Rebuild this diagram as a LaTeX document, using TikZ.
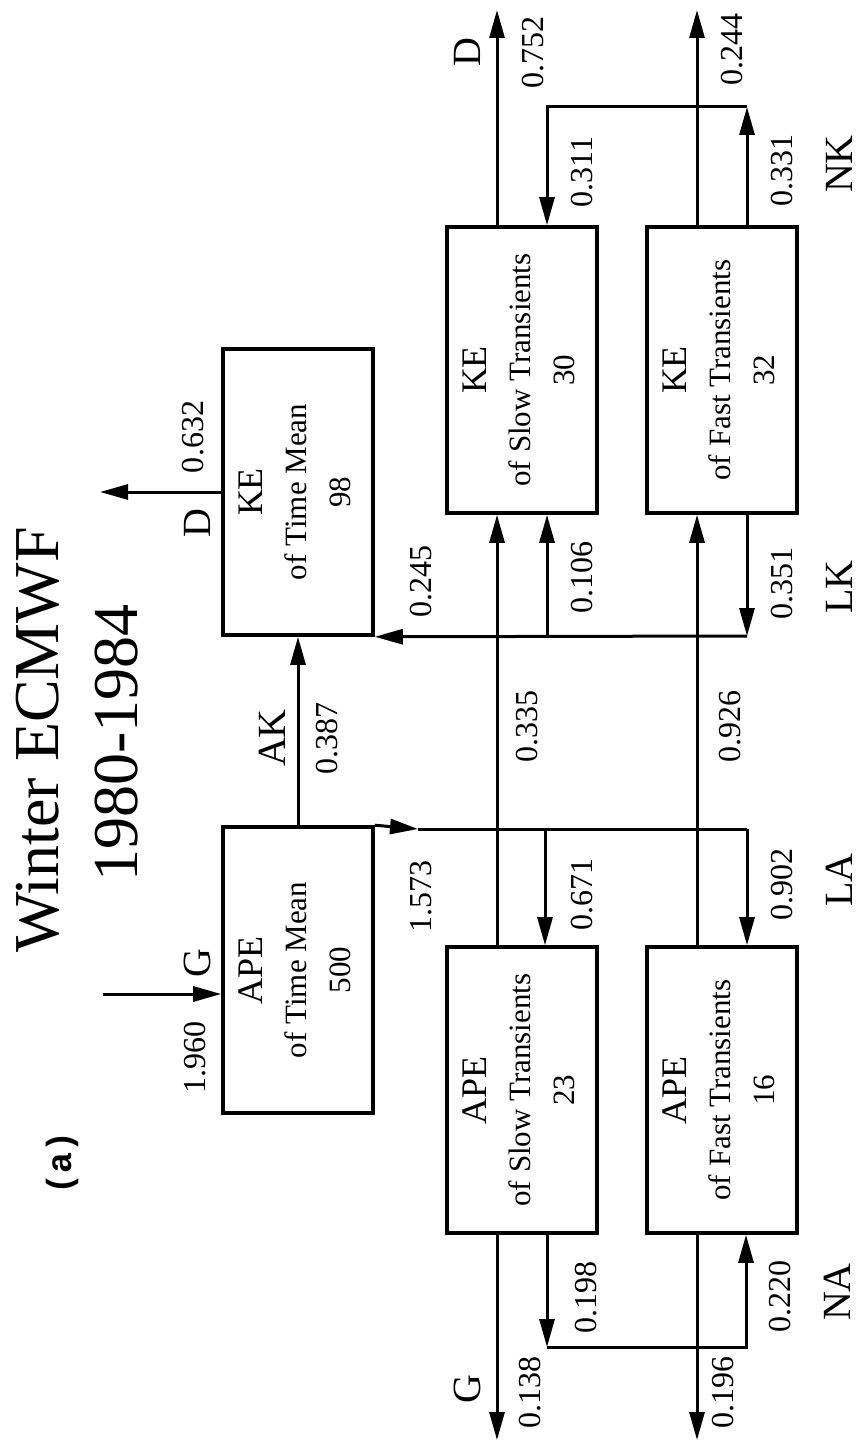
\documentclass[tikz,border=0pt]{standalone}
\usepackage{fontspec}
\setmainfont{Liberation Serif}
\newfontfamily\panelfont{Liberation Mono}
\usepackage{graphicx}
\usetikzlibrary{arrows.meta,positioning,calc}
\newcommand{\enbox}[3]{\rotatebox{90}{\fontsize{15.5}{22}\selectfont
  \begin{tabular}{@{}c@{}}{\fontsize{18}{22}\selectfont #1}\\ #2\\ #3\end{tabular}}}

\begin{document}
\begin{tikzpicture}[
  x=0.5pt, y=-0.5pt,
  box/.style={rectangle, draw=black, line width=1.8pt, minimum width=75pt,
              minimum height=143pt, inner sep=0pt},
  flux/.style={rotate=90, inner sep=0pt, font=\fontsize{16}{18}\selectfont},
  term/.style={rotate=90, inner sep=0pt, font=\fontsize{20}{22}\selectfont},
  ar/.style={-{Triangle[length=14pt, width=7.5pt]}, line width=1.5pt},
  ln/.style={line width=1.5pt}
]
\useasboundingbox (0,0) rectangle (860,1443);

\node[rotate=90, font=\fontsize{32}{36}\selectfont] (title) at (38,740) {Winter ECMWF};
\node[rotate=90, font=\fontsize{32}{36}\selectfont] (years) at (117,743) {1980-1984};
\node[rotate=90, font=\panelfont\bfseries\fontsize{17.5}{20}\selectfont] (panel) at (62,1163) {(a)};

\node[box] (ketm)    at (298,492)  {\enbox{KE}{of Time Mean}{98}};
\node[box] (apetm)   at (298,970)  {\enbox{APE}{of Time Mean}{500}};
\node[box] (keslow)  at (522,370)  {\enbox{KE}{of Slow Transients}{30}};
\node[box] (kefast)  at (722,370)  {\enbox{KE}{of Fast Transients}{32}};
\node[box] (apeslow) at (522,1090) {\enbox{APE}{of Slow Transients}{23}};
\node[box] (apefast) at (722,1090) {\enbox{APE}{of Fast Transients}{16}};

% free ends and bends
\coordinate (dout) at (100,492);
\coordinate (gin) at (103,994);
\coordinate (latip) at (418,829);
\coordinate (laslow) at (545,829);
\coordinate (lacorner) at (747,829);
\coordinate (lkslow) at (547,636);
\coordinate (lkcorner) at (747,636);
\coordinate (vsl) at (497,720);
\coordinate (vfl) at (697,720);
\coordinate (dslow) at (497,10);
\coordinate (dfast) at (697,10);
\coordinate (nkR) at (747,107);
\coordinate (nkL) at (547,107);
\coordinate (naL) at (547,1347);
\coordinate (naR) at (746,1347);
\coordinate (gslow) at (497,1440);
\coordinate (gfast) at (697,1440);

\draw[ar] (ketm.west) -- (dout);
\draw[ar] (gin) -- (gin -| apetm.west);
\draw[ar] (apetm) -- (ketm);
\draw[ar] (apetm.north east) -- (latip);
\draw[ln] (latip) -- (lacorner);
\draw[ar] (lacorner) -- (lacorner |- apefast.north);
\draw[ar] (laslow) -- (laslow |- apeslow.north);
\draw[ar] (lkcorner) -- (ketm.south east);
\draw[ar] (kefast.south -| lkcorner) -- (lkcorner);
\draw[ar] (lkslow) -- (lkslow |- keslow.south);
\draw[ar] (apeslow.north -| vsl) -- (keslow.south -| vsl);
\draw[ar] (apefast.north -| vfl) -- (kefast.south -| vfl);
\draw[ar] (keslow.north -| vsl) -- (dslow);
\draw[ar] (kefast.north -| vfl) -- (dfast);
\draw[ar] (kefast.north -| nkR) -- (nkR);
\draw[ar] (nkR) -- (nkL) -- (nkL |- keslow.north);
\draw[ar] (apeslow.south -| vsl) -- (gslow);
\draw[ar] (apefast.south -| vfl) -- (gfast);
\draw[ar] (apeslow.south -| naL) -- (naL);
\draw[ar] (naL) -- (naR) -- (naR |- apefast.south);

\node[term] (dtm)  at (197,523)  {D};
\node[term] (gtm)  at (197,963)  {G};
\node[term] (ak)   at (272,738)  {AK};
\node[term] (dks)  at (467,52)   {D};
\node[term] (nk)   at (839,164)  {NK};
\node[term] (lk)   at (839,587)  {LK};
\node[term] (la)   at (839,880)  {LA};
\node[term] (na)   at (837,1292) {NA};
\node[term] (gas)  at (467,1389) {G};

\node[flux] (vdtm) at (193,437)  {0.632};
\node[flux] (vgtm) at (195,1057) {1.960};
\node[flux] (vak)  at (327,738)  {0.387};
\node[flux] (vlk)  at (421,581)  {0.245};
\node[flux] (vla)  at (421,896)  {1.573};
\node[flux] (vdks) at (533,53)   {0.752};
\node[flux] (vdkf) at (732,50)   {0.244};
\node[flux] (vnks) at (582,172)  {0.311};
\node[flux] (vnkf) at (782,171)  {0.331};
\node[flux] (vlks) at (582,577)  {0.106};
\node[flux] (vlkf) at (782,583)  {0.351};
\node[flux] (vcs)  at (527,726)  {0.335};
\node[flux] (vcf)  at (730,726)  {0.926};
\node[flux] (vlas) at (582,894)  {0.671};
\node[flux] (vlaf) at (782,884)  {0.902};
\node[flux] (vnas) at (586,1297) {0.198};
\node[flux] (vnaf) at (780,1296) {0.220};
\node[flux] (vgas) at (530,1392) {0.138};
\node[flux] (vgaf) at (723,1392) {0.196};
\end{tikzpicture}
\end{document}
